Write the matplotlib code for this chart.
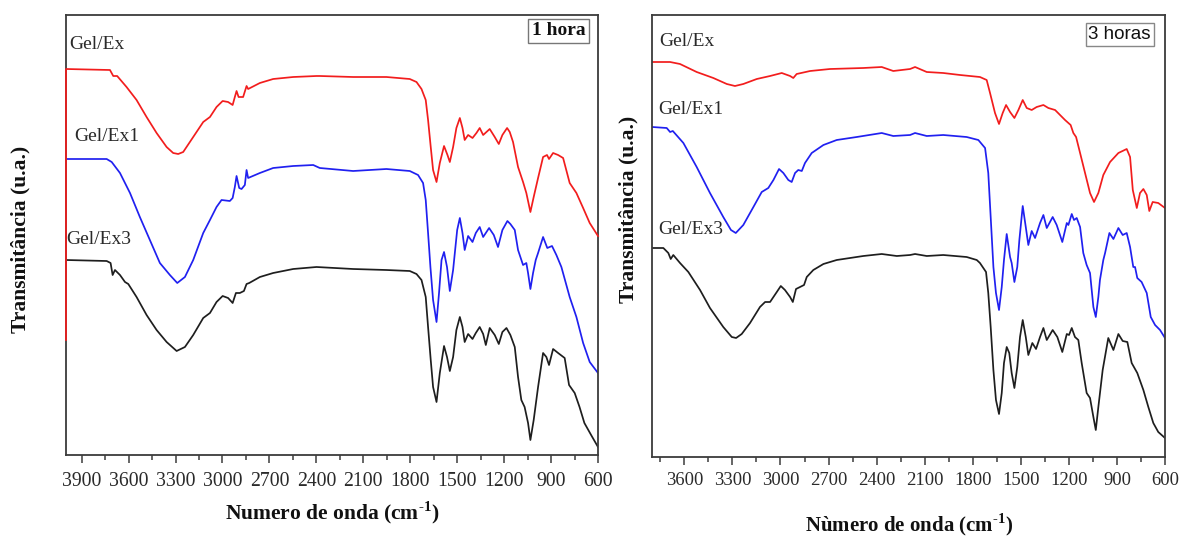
import matplotlib
matplotlib.use("Agg")
import matplotlib.pyplot as plt
from matplotlib.ticker import MultipleLocator

plt.rcParams['font.family'] = ['Liberation Serif', 'DejaVu Serif']
plt.rcParams['mathtext.fontset'] = 'custom'
plt.rcParams['mathtext.rm'] = 'Liberation Serif:bold'
plt.rcParams['mathtext.bf'] = 'Liberation Serif:bold'

# ---------------- 1 hora (left panel) ----------------
h1_ex_wn = [4000, 4000, 3719, 3698, 3673, 3613, 3549, 3485, 3421, 3357, 3315, 3283, 3251, 3187, 3123, 3080,
            3038, 2999, 2964, 2935, 2921, 2910, 2897, 2868, 2846, 2836, 2761, 2676, 2548, 2399, 2378, 2165,
            1952, 1803, 1760, 1728, 1701, 1686, 1669, 1654, 1632, 1611, 1584, 1562, 1547, 1526, 1505, 1483,
            1466, 1452, 1430, 1402, 1377, 1356, 1334, 1292, 1260, 1234, 1211, 1181, 1164, 1143, 1111, 1079,
            1058, 1032, 1011, 983, 951, 926, 913, 887, 855, 823, 781, 738, 695, 653, 600]
h1_ex_val = [115, 386, 385, 379, 379, 368, 355, 338, 322, 308, 302, 301, 303, 318, 333, 338,
             348, 354, 353, 350, 358, 364, 358, 358, 369, 366, 372, 376, 378, 379, 379, 378,
             378, 376, 373, 366, 355, 335, 308, 285, 273, 292, 309, 300, 293, 308, 327, 337,
             327, 315, 320, 317, 322, 327, 320, 326, 318, 311, 320, 327, 323, 313, 288, 273,
             262, 243, 258, 277, 298, 300, 296, 302, 300, 297, 272, 262, 247, 232, 219]

h1_ex1_wn = [4000, 3740, 3708, 3655, 3591, 3528, 3464, 3400, 3336, 3289, 3240, 3187, 3123, 3080, 3038, 3006,
             2953, 2935, 2921, 2910, 2893, 2878, 2857, 2846, 2836, 2761, 2676, 2548, 2420, 2378, 2165, 1952,
             1803, 1750, 1718, 1701, 1686, 1671, 1654, 1632, 1616, 1600, 1584, 1565, 1547, 1526, 1515, 1500,
             1483, 1466, 1452, 1430, 1402, 1381, 1356, 1334, 1296, 1266, 1239, 1211, 1179, 1160, 1132, 1111,
             1079, 1058, 1047, 1032, 1015, 998, 983, 951, 924, 894, 866, 834, 781, 738, 695, 653, 600]
h1_ex1_val = [296, 296, 293, 282, 262, 238, 215, 192, 180, 172, 178, 195, 222, 235, 248, 255,
              254, 257, 268, 279, 267, 266, 270, 285, 277, 282, 287, 289, 290, 287, 284, 286,
              284, 280, 272, 255, 222, 188, 155, 133, 162, 195, 203, 188, 164, 185, 202, 225,
              237, 222, 205, 219, 213, 222, 228, 218, 227, 220, 208, 225, 234, 231, 225, 205,
              190, 192, 182, 166, 182, 195, 202, 218, 207, 209, 200, 188, 158, 138, 112, 93, 82]

h1_ex3_wn = [4000, 3740, 3715, 3702, 3687, 3655, 3623, 3602, 3549, 3485, 3421, 3357, 3293, 3240, 3187, 3123,
             3080, 3038, 2999, 2964, 2935, 2914, 2889, 2863, 2846, 2829, 2761, 2676, 2548, 2399, 2165, 1952,
             1803, 1760, 1728, 1701, 1686, 1669, 1654, 1632, 1611, 1584, 1565, 1547, 1526, 1505, 1483, 1466,
             1452, 1430, 1402, 1381, 1356, 1334, 1317, 1292, 1260, 1234, 1211, 1185, 1160, 1132, 1111, 1090,
             1069, 1047, 1032, 1011, 983, 951, 930, 913, 887, 855, 813, 785, 749, 718, 687, 644, 600]
h1_ex3_val = [195, 194, 192, 180, 185, 180, 173, 171, 158, 140, 125, 113, 104, 108, 120, 137,
              142, 153, 159, 157, 152, 162, 162, 164, 171, 172, 178, 182, 186, 188, 186, 185,
              184, 181, 175, 158, 128, 95, 68, 53, 82, 109, 98, 84, 98, 125, 138, 128,
              113, 121, 116, 122, 128, 121, 110, 127, 120, 111, 123, 127, 120, 108, 78, 55,
              48, 32, 15, 35, 68, 102, 98, 90, 106, 102, 97, 70, 62, 48, 32, 20, 8]

# ---------------- 3 horas (right panel) ----------------
h3_ex_wn = [3800, 3689, 3627, 3523, 3419, 3335, 3284, 3232, 3148, 3065, 2992, 2940, 2920, 2899, 2815, 2691,
            2483, 2368, 2296, 2191, 2160, 2087, 1984, 1879, 1755, 1713, 1692, 1661, 1636, 1613, 1592, 1567,
            1540, 1515, 1488, 1463, 1432, 1401, 1359, 1328, 1286, 1255, 1224, 1189, 1172, 1155, 1130, 1099,
            1068, 1043, 1016, 985, 943, 891, 839, 818, 801, 776, 756, 735, 714, 698, 677, 642, 600]
h3_ex_val = [395, 395, 393, 385, 379, 373, 371, 373, 378, 381, 384, 381, 379, 383, 386, 388,
             389, 390, 386, 388, 390, 385, 384, 382, 380, 377, 364, 344, 333, 344, 352, 345,
             339, 347, 357, 349, 347, 350, 352, 349, 347, 342, 337, 332, 324, 320, 304, 284,
             264, 255, 264, 282, 295, 304, 308, 300, 267, 249, 264, 268, 262, 246, 255, 254, 249]

h3_ex1_wn = [3800, 3710, 3689, 3672, 3606, 3523, 3440, 3357, 3309, 3279, 3232, 3169, 3117, 3076, 3044, 3009,
             2982, 2951, 2930, 2909, 2889, 2867, 2847, 2805, 2732, 2649, 2524, 2368, 2296, 2191, 2160, 2087,
             1984, 1838, 1765, 1723, 1703, 1688, 1671, 1655, 1636, 1619, 1605, 1588, 1567, 1557, 1540, 1522,
             1509, 1488, 1469, 1453, 1432, 1411, 1380, 1359, 1338, 1301, 1276, 1241, 1213, 1203, 1182, 1168,
             1151, 1130, 1110, 1089, 1068, 1047, 1032, 1016, 1006, 985, 974, 947, 922, 891, 864, 839, 818,
             798, 787, 773, 746, 714, 689, 662, 631, 600]
h3_ex1_val = [330, 329, 325, 326, 314, 290, 264, 240, 227, 224, 232, 250, 265, 269, 277, 288,
              284, 277, 275, 284, 287, 286, 294, 304, 312, 317, 320, 324, 321, 322, 324, 321,
              322, 320, 317, 309, 284, 240, 190, 164, 147, 170, 197, 223, 200, 194, 175, 190,
              217, 251, 230, 212, 226, 219, 234, 242, 229, 240, 232, 215, 234, 232, 243, 237,
              239, 230, 204, 192, 184, 150, 140, 160, 177, 197, 204, 224, 218, 229, 222, 224, 210,
              190, 190, 179, 175, 164, 140, 132, 127, 119]

h3_ex3_wn = [3800, 3731, 3700, 3685, 3669, 3627, 3575, 3502, 3440, 3357, 3304, 3277, 3242, 3190, 3128, 3096,
             3065, 3023, 2998, 2972, 2940, 2923, 2903, 2878, 2853, 2836, 2795, 2732, 2649, 2483, 2368, 2274,
             2191, 2160, 2087, 1984, 1838, 1775, 1755, 1717, 1703, 1688, 1671, 1655, 1636, 1619, 1605, 1588,
             1572, 1557, 1540, 1522, 1505, 1488, 1469, 1453, 1428, 1405, 1380, 1359, 1338, 1301, 1272, 1241,
             1213, 1199, 1182, 1162, 1141, 1120, 1089, 1068, 1047, 1032, 1016, 989, 954, 922, 891, 864, 835,
             808, 773, 735, 704, 673, 642, 600]
h3_ex3_val = [209, 209, 204, 198, 202, 194, 185, 167, 149, 130, 120, 119, 123, 134, 150, 155,
              155, 165, 171, 167, 160, 155, 168, 170, 172, 180, 187, 193, 197, 201, 203, 201,
              202, 203, 201, 202, 200, 197, 194, 185, 164, 130, 87, 57, 43, 64, 94, 110,
              104, 84, 69, 90, 120, 137, 120, 102, 114, 108, 120, 129, 117, 127, 120, 105,
              123, 122, 129, 120, 117, 94, 64, 59, 40, 27, 50, 87, 119, 107, 123, 116, 115,
              94, 84, 67, 50, 34, 25, 19]

sample_names = ['Gel/Ex', 'Gel/Ex1', 'Gel/Ex3']
panel_titles = ['1 hora', '3 horas']
xticks_left = [3900, 3600, 3300, 3000, 2700, 2400, 2100, 1800, 1500, 1200, 900, 600]
xticks_right = [3600, 3300, 3000, 2700, 2400, 2100, 1800, 1500, 1200, 900, 600]

RED = '#f21d1d'
BLUE = '#2020f0'
BLACK = '#1e1e1e'
SPINE = '#3c3c3c'
TXT = '#2a2a2a'

fig = plt.figure(figsize=(11.8, 5.38), dpi=100)
fig.patch.set_facecolor('white')
W, H = 1180, 538
ax1 = fig.add_axes([66 / W, 1 - 455 / H, 532 / W, 440 / H])
ax2 = fig.add_axes([652.3 / W, 1 - 457 / H, 512.7 / W, 442 / H])

lw = 1.25
ax1.plot(h1_ex3_wn, h1_ex3_val, color=BLACK, lw=lw)
ax1.plot(h1_ex1_wn, h1_ex1_val, color=BLUE, lw=lw)
ax1.plot(h1_ex_wn, h1_ex_val, color=RED, lw=lw, zorder=3, clip_on=False)
ax2.plot(h3_ex3_wn, h3_ex3_val, color=BLACK, lw=lw)
ax2.plot(h3_ex1_wn, h3_ex1_val, color=BLUE, lw=lw)
ax2.plot(h3_ex_wn, h3_ex_val, color=RED, lw=lw)

ax1.set_xlim(4000, 600)
ax1.set_ylim(0, 440)
ax2.set_xlim(3800, 600)
ax2.set_ylim(0, 442)

for ax, ticks, fs, pd in ((ax1, xticks_left, 14.2, 6.0), (ax2, xticks_right, 13.4, 5.0)):
    ax.set_xticks(ticks)
    ax.xaxis.set_minor_locator(MultipleLocator(150))
    ax.set_yticks([])
    ax.tick_params(axis='x', which='major', direction='out', length=6, width=1.1,
                   color=SPINE, labelsize=fs, labelcolor=TXT, pad=pd, top=False)
    ax.tick_params(axis='x', which='minor', direction='out', length=3.6, width=1.1,
                   color=SPINE, top=False)
    for sp in ax.spines.values():
        sp.set_color(SPINE)
        sp.set_linewidth(1.3)

ax1.set_xlabel(r'Numero de onda (cm$^{\text{-}\mathbf{1}}$)', fontsize=15.5, fontweight='bold', color='#111')
ax1.xaxis.set_label_coords(0.5, -0.1)
ax2.set_xlabel(r'Nùmero de onda (cm$^{\text{-}\mathbf{1}}$)', fontsize=15, fontweight='bold', color='#111')
ax2.xaxis.set_label_coords(0.5, -0.124)

ax1.set_ylabel('Transmitância (u.a.)', fontsize=15.5, fontweight='bold', color='#111')
ax1.yaxis.set_label_coords(-0.066, 0.49)
ax2.set_ylabel('Transmitância (u.a.)', fontsize=15.5, fontweight='bold', color='#111')
ax2.yaxis.set_label_coords(-0.026, 0.56)

# sample labels
lab_pos_left = [(0.006, 0.932), (0.015, 0.723), (0.0, 0.489)]
lab_pos_right = [(0.013, 0.939), (0.011, 0.787), (0.012, 0.514)]
for ax, poss in ((ax1, lab_pos_left), (ax2, lab_pos_right)):
    for name, (x, y) in zip(sample_names, poss):
        ax.text(x, y, name, transform=ax.transAxes, fontsize=14, color=TXT,
                ha='left', va='center')

ax1.text(0.9254, 0.9639, panel_titles[0], transform=ax1.transAxes, fontsize=14,
         fontweight='bold', color='#111', ha='center', va='center',
         bbox=dict(boxstyle='square,pad=0.18', fc='white', ec='#777', lw=1.0))
ax2.text(0.9117, 0.9563, panel_titles[1], transform=ax2.transAxes, fontsize=13.5,
         family=['Liberation Sans', 'DejaVu Sans'], color='#111', ha='center', va='center',
         bbox=dict(boxstyle='square,pad=0.15', fc='white', ec='#888', lw=1.0))

fig.savefig('out.png', dpi=100, facecolor='white')
